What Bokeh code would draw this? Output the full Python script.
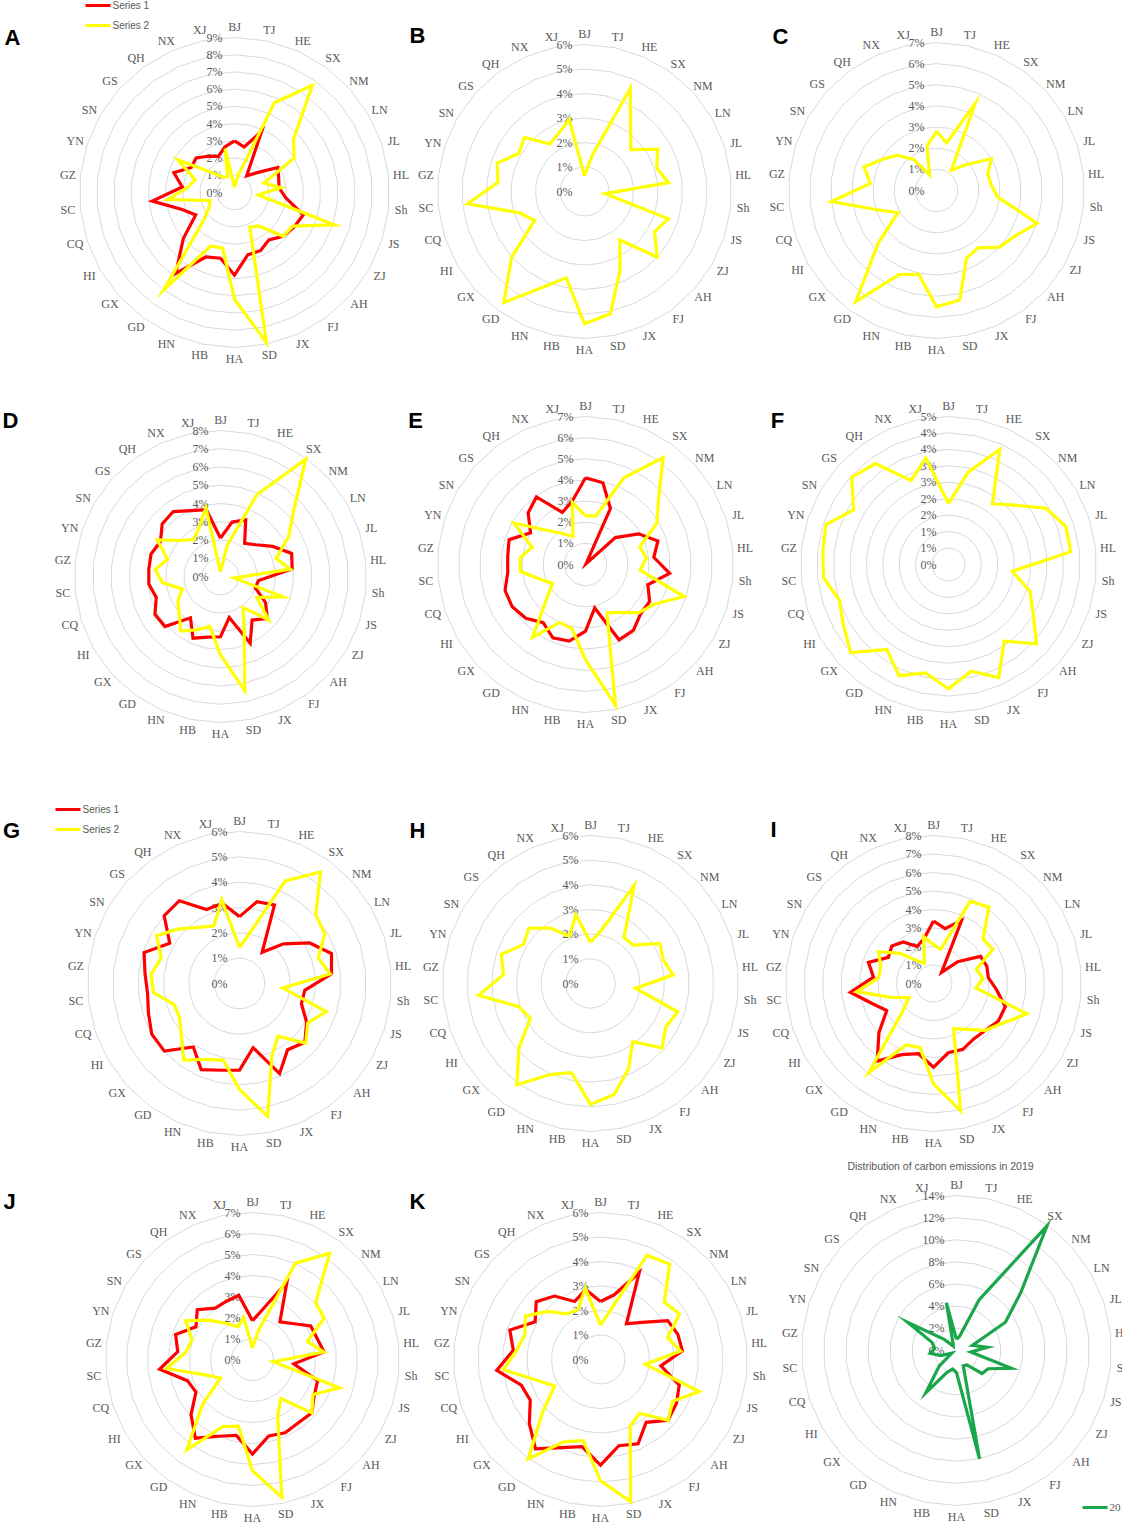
import numpy as np
from bokeh.plotting import figure
from bokeh.models import Range1d
from bokeh.core.properties import value
from bokeh.embed import file_html
from bokeh.resources import INLINE

categories = ["BJ", "TJ", "HE", "SX", "NM", "LN", "JL", "HL", "Sh", "JS",
              "ZJ", "AH", "FJ", "JX", "SD", "HA", "HB", "HN", "GD", "GX",
              "HI", "CQ", "SC", "GZ", "YN", "SN", "GS", "QH", "NX", "XJ"]

A_series1 = [3.0, 2.7, 3.9, 1.2, 1.7, 2.9, 2.7, 2.6, 3.0, 4.2, 4.0, 3.8, 3.4, 3.7, 3.7,
             4.8, 3.9, 4.1, 5.8, 4.0, 2.6, 3.2, 4.8, 3.05, 3.7, 2.9, 3.0, 2.6, 2.3, 2.7]
A_series2 = [0.3, 1.0, 5.7, 7.7, 4.6, 4.0, 1.8, 2.7, 1.4, 6.1, 3.9, 3.8, 2.4, 2.2, 8.9,
             6.2, 3.3, 3.4, 7.0, 2.4, 1.7, 1.5, 3.9, 2.75, 2.4, 3.8, 1.7, 1.1, 1.0, 2.6]
B_series2 = [0.64, 1.5, 4.6, 3.2, 2.55, 3.45, 3.1, 3.45, 0.85, 3.6, 3.3, 4.0, 2.45, 3.55, 5.1,
             5.4, 3.6, 4.3, 5.6, 4.0, 2.35, 2.8, 4.8, 3.55, 3.75, 3.1, 3.3, 2.4, 2.6, 3.0]
C_series2 = [2.8, 2.3, 4.5, 1.2, 1.8, 3.0, 2.55, 2.6, 2.9, 5.0, 4.3, 4.0, 3.35, 3.5, 5.3,
             5.5, 4.05, 4.35, 6.5, 3.7, 2.1, 2.95, 5.0, 3.15, 3.6, 2.95, 2.5, 1.8, 0.8, 2.15]
D_series1 = [2.1, 3.05, 3.4, 2.25, 2.6, 3.3, 4.1, 3.95, 2.1, 2.0, 2.85, 3.45, 2.95, 4.0, 2.3,
             3.3, 3.4, 3.7, 2.8, 4.1, 4.15, 3.7, 3.95, 3.95, 4.0, 3.8, 4.3, 4.4, 3.95, 3.75]
D_series2 = [0.25, 1.75, 4.9, 7.95, 5.4, 4.3, 3.2, 3.85, 0.75, 3.6, 2.3, 3.55, 2.1, 3.2, 6.4,
             4.3, 2.8, 3.2, 3.7, 3.05, 2.7, 2.2, 3.2, 3.6, 3.05, 4.0, 2.95, 2.5, 2.9, 3.85]
E_series1 = [4.1, 3.95, 2.9, 0.05, 1.9, 2.9, 3.6, 3.25, 4.0, 3.1, 3.5, 3.5, 3.85, 3.9, 2.1,
             3.15, 3.7, 3.8, 3.4, 3.8, 4.0, 4.0, 3.7, 3.7, 3.8, 3.0, 3.65, 3.95, 2.7, 3.05]
E_series2 = [2.3, 2.35, 4.5, 6.25, 4.65, 3.9, 2.7, 2.9, 2.6, 4.9, 3.75, 3.4, 2.8, 2.5, 6.8,
             4.5, 3.1, 3.0, 4.25, 2.5, 1.8, 2.25, 3.1, 3.1, 2.65, 3.9, 2.4, 1.8, 1.45, 3.0]
F_series2 = [1.85, 2.87, 3.83, 2.28, 2.7, 3.42, 3.75, 3.74, 1.95, 2.6, 2.97, 3.6, 2.88, 3.76, 3.32,
             3.78, 3.37, 3.7, 3.19, 4.0, 3.69, 3.49, 3.82, 3.84, 3.92, 3.33, 3.96, 3.79, 2.8, 3.31]
G_series1 = [2.64, 3.3, 3.39, 1.52, 2.34, 3.2, 3.82, 3.65, 2.59, 2.57, 3.06, 3.47, 3.23, 3.89, 2.59,
             3.42, 3.5, 3.72, 3.1, 3.99, 4.0, 3.78, 3.65, 3.75, 3.96, 3.18, 4.0, 4.04, 3.2, 3.24]
G_series2 = [1.42, 2.08, 4.43, 5.44, 4.05, 3.89, 3.27, 3.6, 1.72, 3.6, 3.11, 3.52, 2.57, 3.14, 5.36,
             4.18, 3.09, 3.28, 3.74, 3.09, 2.73, 2.71, 3.41, 3.51, 3.25, 3.78, 3.22, 2.74, 2.49, 3.39]
H_series2 = [1.67, 2.25, 4.35, 2.31, 2.33, 3.25, 3.1, 3.37, 1.84, 3.71, 3.53, 3.9, 2.92, 3.79, 4.6,
             4.9, 3.7, 4.04, 5.08, 3.9, 2.82, 3.05, 4.56, 3.54, 3.81, 3.15, 3.36, 2.78, 2.1, 2.85]
I_series1 = [3.38, 3.03, 3.74, 0.74, 1.76, 2.93, 3.03, 2.98, 3.44, 4.08, 4.05, 3.78, 3.7, 3.9, 3.83,
             4.53, 3.88, 4.21, 5.18, 3.97, 2.92, 3.49, 4.52, 3.26, 3.7, 2.82, 3.03, 2.78, 2.19, 2.47]
I_series2 = [2.1, 1.89, 4.87, 5.1, 3.6, 3.7, 2.43, 2.7, 2.31, 5.31, 4.3, 3.78, 3.06, 2.67, 7.04,
             5.43, 3.53, 3.63, 5.96, 2.23, 1.53, 2.43, 4.16, 2.98, 3.0, 3.43, 2.43, 1.53, 1.2, 2.6]
J_series1 = [1.85, 2.47, 4.03, 2.22, 2.56, 3.2, 3.24, 3.42, 1.98, 3.26, 3.4, 3.8, 3.72, 3.82, 3.72,
             4.5, 3.7, 4.0, 4.63, 3.94, 3.11, 3.26, 4.45, 3.58, 3.85, 3.11, 3.54, 3.02, 3.04, 3.12]
J_series2 = [0.55, 1.44, 5.02, 6.25, 4.05, 3.93, 2.75, 3.41, 1.0, 4.36, 3.33, 3.8, 2.3, 2.95, 6.7,
             5.3, 3.24, 3.5, 5.32, 3.21, 1.76, 2.37, 4.12, 3.2, 3.03, 3.68, 2.8, 2.13, 1.7, 2.05]
K_series1 = [2.37, 2.7, 3.89, 1.8, 2.26, 3.17, 3.32, 3.36, 2.48, 3.38, 3.58, 3.71, 3.17, 3.77, 3.6,
             4.31, 3.64, 3.94, 4.51, 3.91, 3.31, 3.4, 4.26, 3.58, 3.89, 3.08, 3.53, 3.2, 2.59, 2.92]
K_series2 = [1.4, 2.1, 4.66, 4.81, 3.5, 3.72, 2.88, 3.29, 1.84, 4.23, 3.4, 3.71, 2.71, 2.98, 5.93,
             4.95, 3.39, 3.68, 5.02, 3.17, 2.16, 2.73, 3.99, 3.45, 3.25, 3.54, 2.93, 2.3, 2.24, 2.98]
L_2019 = [1.0, 1.3, 5.0, 13.9, 7.8, 5.1, 1.5, 2.8, 1.3, 5.2, 3.3, 3.1, 1.6, 1.5, 10.0,
          2.0, 1.7, 2.2, 4.7, 2.1, 0.5, 1.5, 2.4, 2.0, 2.3, 5.1, 1.5, 0.5, 0.8, 4.4]

ticks_9 = ["0%", "1%", "2%", "3%", "4%", "5%", "6%", "7%", "8%", "9%"]
ticks_8 = ticks_9[:9]
ticks_7 = ticks_9[:8]
ticks_6 = ticks_9[:7]
ticks_F = ["0%", "1%", "1%", "2%", "2%", "3%", "3%", "4%", "4%", "5%"]
ticks_L = ["0%", "2%", "4%", "6%", "8%", "10%", "12%", "14%"]

legend_labels = ["Series 1", "Series 2"]
L_title = "Distribution of carbon emissions in 2019"
L_legend = "2019"

RED = "#ff0000"
YELLOW = "#ffff00"
GREEN = "#1aa64a"
GRID = "#d9d9d9"
TXT = "#595959"

# layout: (letter, centre x, centre y, radius px, axis max, tick labels, series list, letter pos)
panels = [
    ("A", 242, 200, 155, 9.0, ticks_9, [(A_series1, RED), (A_series2, YELLOW)], (20, 45)),
    ("B", 592, 199, 147, 6.0, ticks_6, [(B_series2, YELLOW)], (425, 43)),
    ("C", 944, 198, 148, 7.0, ticks_7, [(C_series2, YELLOW)], (788, 44)),
    ("D", 228, 584, 146, 8.0, ticks_8, [(D_series1, RED), (D_series2, YELLOW)], (18, 428)),
    ("E", 593, 572, 148, 7.0, ticks_7, [(E_series1, RED), (E_series2, YELLOW)], (423, 428)),
    ("F", 956, 572, 148, 4.5, ticks_F, [(F_series2, YELLOW)], (785, 428)),
    ("G", 247, 991, 152, 6.0, ticks_6, [(G_series1, RED), (G_series2, YELLOW)], (19, 838)),
    ("H", 598, 991, 148, 6.0, ticks_6, [(H_series2, YELLOW)], (425, 838)),
    ("I", 941, 991, 148, 8.0, ticks_8, [(I_series1, RED), (I_series2, YELLOW)], (781, 837)),
    ("J", 260, 1367, 147, 7.0, ticks_7, [(J_series1, RED), (J_series2, YELLOW)], (17, 1209)),
    ("K", 608, 1367, 147, 6.0, ticks_6, [(K_series1, RED), (K_series2, YELLOW)], (425, 1209)),
    ("", 964, 1358, 155, 14.0, ticks_L, [(L_2019, GREEN)], None),
]

W, H = 1122, 1523
p = figure(width=W, height=H, x_range=Range1d(8, 8 + W), y_range=Range1d(8 + H, 8),
           output_backend="svg", toolbar_location=None,
           x_axis_type=None, y_axis_type=None, min_border=0)
p.outline_line_color = None
p.background_fill_color = "white"
p.border_fill_color = "white"

n = len(categories)
theta = 2 * np.pi * np.arange(n) / n
sin_t, cos_t = np.sin(theta), np.cos(theta)

serif = value("Liberation Serif")
sans = value("Liberation Sans")

for letter, cx, cy, R, vmax, ticks, series, lpos in panels:
    nr = len(ticks) - 1
    # grid polygons
    xs, ys = [], []
    for k in range(1, nr + 1):
        r = R * k / nr
        xs.append(list(cx + r * np.append(sin_t, sin_t[0])))
        ys.append(list(cy - r * np.append(cos_t, cos_t[0])))
    p.multi_line(xs, ys, line_color=GRID, line_width=1)
    # value axis labels
    ty = [cy - R * k / nr for k in range(nr + 1)]
    p.text(x=[cx - 12] * (nr + 1), y=ty, text=ticks, text_font=serif,
           text_font_size=value("12px"), text_color=TXT, text_align="right",
           text_baseline="middle")
    # series
    for vals, col in series:
        v = np.array(vals, dtype=float)
        r = v / vmax * R
        x = cx + r * sin_t
        y = cy - r * cos_t
        p.line(np.append(x, x[0]), np.append(y, y[0]), line_color=col,
               line_width=3.2, line_join="miter")
    # category labels
    g = 5
    wlab = np.array([7.5 * len(c) for c in categories])
    lx = cx + (R + g) * sin_t + wlab / 2 * sin_t
    ly = cy - (R + g) * cos_t - 6 * cos_t
    p.text(x=lx, y=ly, text=categories, text_font=serif, text_font_size=value("12px"),
           text_color=TXT, text_align="center", text_baseline="middle")
    if letter:
        p.text(x=[lpos[0]], y=[lpos[1]], text=[letter], text_font=sans,
               text_font_size=value("22px"), text_font_style="bold",
               text_color="black", text_align="center", text_baseline="middle")

# legends for A and G
for x0, y0 in [(93, 13), (63, 817)]:
    for i, (lab, col) in enumerate(zip(legend_labels, [RED, YELLOW])):
        yy = y0 + 20 * i
        p.line([x0, x0 + 25], [yy, yy], line_color=col, line_width=3)
        p.text(x=[x0 + 27], y=[yy], text=[lab], text_font=sans,
               text_font_size=value("10px"), text_color=TXT, text_align="left",
               text_baseline="middle")

# panel L title and legend
p.text(x=[948], y=[1173], text=[L_title], text_font=sans, text_font_size=value("10.5px"),
       text_color=TXT, text_align="center", text_baseline="middle")
p.line([1090, 1115], [1515, 1515], line_color=GREEN, line_width=3)
p.text(x=[1117], y=[1515], text=[L_legend], text_font=serif, text_font_size=value("11px"),
       text_color=TXT, text_align="left", text_baseline="middle")

open("out.html", "w").write(file_html(p, INLINE))
